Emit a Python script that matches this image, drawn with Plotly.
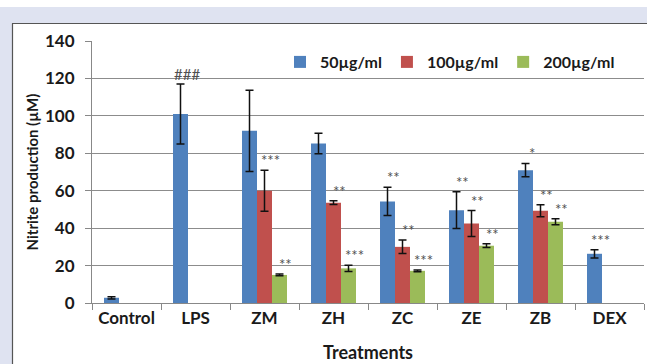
import plotly.graph_objects as go

categories = ["Control", "LPS", "ZM", "ZH", "ZC", "ZE", "ZB", "DEX"]
series_names = ["50µg/ml", "100µg/ml", "200µg/ml"]
colors = ["#4f81bd", "#c0504d", "#9bbb59"]

vals_50 = [2.8, 101, 92, 85.2, 54.3, 49.6, 71, 26.3]
err_50 = [0.6, 16, 21.7, 5.5, 7.5, 9.8, 3.6, 2.2]
lab_50 = ["", "###", "", "", "**", "**", "*", "***"]

vals_100 = [None, None, 60, 53.6, 30, 42.5, 49.3, None]
err_100 = [None, None, 11, 1, 3.6, 6.9, 3.2, None]
lab_100 = ["", "", "***", "**", "**", "**", "**", ""]

vals_200 = [None, None, 15, 18.5, 17.2, 30.6, 43.4, None]
err_200 = [None, None, 0.5, 1.7, 0.5, 1, 1.6, None]
lab_200 = ["", "", "**", "***", "***", "**", "**", ""]

yticks = [0, 20, 40, 60, 80, 100, 120, 140]

series = [(vals_50, err_50, lab_50), (vals_100, err_100, lab_100), (vals_200, err_200, lab_200)]

FONT = "Lato, Carlito, Calibri, sans-serif"
TXT = "#1a1a1a"

fig = go.Figure()
for i, (v, e, _) in enumerate(series):
    fig.add_trace(go.Bar(
        x=categories, y=v, name=series_names[i],
        marker=dict(color=colors[i], line=dict(width=0)),
        error_y=dict(type="data", array=e, visible=True, color="#111111",
                     thickness=1.5, width=4),
    ))

annotations = []
for i, (v, e, labs) in enumerate(series):
    for c, val, er, lab in zip(categories, v, e, labs):
        if lab and val is not None:
            annotations.append(dict(
                x=c, y=val + (er or 0), xref="x", yref="y", text=lab,
                showarrow=False, xshift=(i - 1) * 15 + 6, yshift=10,
                yanchor="middle", xanchor="center",
                font=dict(family=FONT, size=15, color="#505050"),
            ))

L, T, B = 92, 41, 303
W, H = 552, 262
def px(x):
    return (x - L) / W
def py(y):
    return (B - y) / H

shapes = [
    dict(type="rect", xref="paper", yref="paper", x0=px(0), x1=px(647), y0=py(23), y1=py(7),
         fillcolor="#dfe3f1", line=dict(width=0), layer="below"),
    dict(type="rect", xref="paper", yref="paper", x0=px(0), x1=px(12), y0=py(364), y1=py(7),
         fillcolor="#dfe3f1", line=dict(width=0), layer="below"),
    dict(type="line", xref="paper", yref="paper", x0=px(12), x1=px(647), y0=py(23.5), y1=py(23.5),
         line=dict(color="#555555", width=1.2)),
    dict(type="line", xref="paper", yref="paper", x0=px(12.5), x1=px(12.5), y0=py(23.5), y1=py(364),
         line=dict(color="#555555", width=1.2)),
]

fig.update_layout(
    width=647, height=364,
    margin=dict(l=L, r=647 - L - W, t=T, b=364 - B, autoexpand=False),
    paper_bgcolor="white", plot_bgcolor="white",
    barmode="group", bargap=0.348, bargroupgap=0,
    font=dict(family=FONT, color=TXT),
    showlegend=True,
    legend=dict(orientation="h", x=px(280), y=py(62), xanchor="left", yanchor="middle",
                font=dict(family=FONT, size=16, color=TXT, weight="bold"),
                bgcolor="rgba(0,0,0,0)", itemwidth=30, traceorder="normal"),
    annotations=annotations,
    shapes=shapes,
    xaxis=dict(
        range=[-0.5, 7.5], showline=True, linecolor="#888888", linewidth=1,
        ticks="outside", tickson="boundaries", ticklen=6, tickcolor="#888888",
        tickfont=dict(family=FONT, size=17, color=TXT, weight="bold"),
        title=dict(text="Treatments", font=dict(family=FONT, size=18, color=TXT, weight="bold"),
                   standoff=18),
        showgrid=False,
    ),
    yaxis=dict(
        range=[0, 140], tickvals=yticks, showline=True, linecolor="#888888", linewidth=1,
        ticks="outside", ticklen=6, tickcolor="#888888",
        showgrid=True, gridcolor="#8c8c8c", gridwidth=1,
        tickfont=dict(family=FONT, size=17, color=TXT, weight="bold"),
        ticklabelstandoff=7,
        title=dict(text="Nitrite production (µM)",
                   font=dict(family=FONT, size=15, color=TXT, weight="bold"), standoff=2),
        zeroline=False,
    ),
)

fig.write_html("out.html", config={"displayModeBar": False},
               post_script="document.body.style.margin='0';document.body.style.overflow='hidden';")
